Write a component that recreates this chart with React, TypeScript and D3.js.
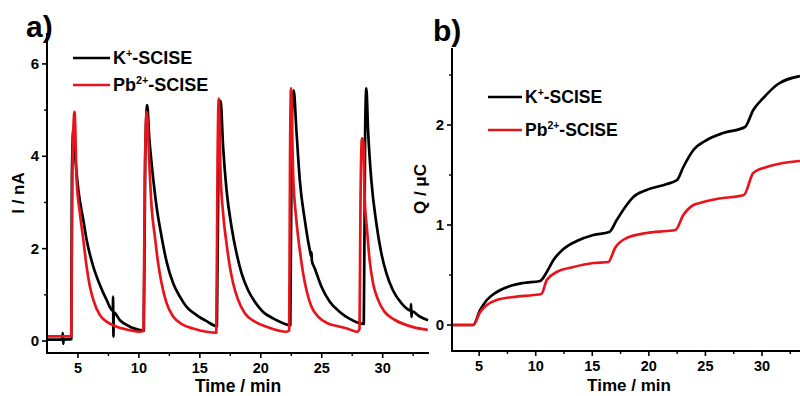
import React from "react";
import * as d3 from "d3";

// ---- Data ----
// Panel a: current I (nA) vs time (min)
const kCurrent: [number, number][] = [
  [2.5, 0.03], [3.7, 0.03], [3.76, 0.17], [3.79, -0.06], [3.82, 0.03], [4.45, 0.04],
  [4.5, 3.5], [4.62, 4.57], [4.8, 3.9], [5.03, 3.27], [5.44, 2.62], [5.71, 2.19], [6.26, 1.61],
  [6.8, 1.21], [7.35, 0.89], [7.86, 0.65], [7.88, 0.96], [7.91, 0.09], [7.94, 0.62], [8.44, 0.45],
  [9.26, 0.31], [10.22, 0.23], [10.4, 0.22],
  [10.52, 4.0], [10.68, 5.11], [10.85, 4.4], [11.04, 3.85], [11.45, 2.91], [11.86, 2.26],
  [12.27, 1.72], [12.81, 1.25], [13.36, 0.96], [13.91, 0.74], [14.73, 0.56], [15.55, 0.43], [16.4, 0.32],
  [16.55, 4.5], [16.7, 5.2], [16.91, 4.2], [17.19, 3.27], [17.6, 2.47], [18.01, 1.9], [18.42, 1.47],
  [18.96, 1.1], [19.51, 0.85], [20.19, 0.63], [21.01, 0.49], [22.24, 0.35], [22.42, 0.34],
  [22.55, 4.8], [22.7, 5.43], [22.92, 4.57], [23.2, 3.48], [23.61, 2.62], [24.02, 1.97],
  [24.14, 1.83], [24.16, 1.92], [24.19, 1.74], [24.43, 1.57], [24.97, 1.18], [25.66, 0.85],
  [26.48, 0.63], [27.3, 0.48], [28.45, 0.37],
  [28.56, 4.5], [28.66, 5.47], [28.8, 4.57], [29.07, 3.48], [29.48, 2.55], [29.89, 1.9],
  [30.3, 1.47], [30.84, 1.1], [31.53, 0.82], [32.3, 0.66], [32.33, 0.8], [32.36, 0.52],
  [32.4, 0.64], [33.03, 0.53], [33.72, 0.45],
];
const pbCurrent: [number, number][] = [
  [2.5, 0.1], [4.45, 0.1], [4.55, 3.8], [4.72, 4.96], [4.89, 3.48], [5.16, 2.77], [5.44, 2.19],
  [5.71, 1.61], [5.98, 1.18], [6.26, 0.89], [6.8, 0.56], [7.35, 0.42], [8.17, 0.31], [8.99, 0.25],
  [10.08, 0.2], [10.38, 0.22],
  [10.48, 3.5], [10.65, 4.96], [10.85, 3.85], [11.04, 2.91], [11.31, 2.26], [11.58, 1.68],
  [11.86, 1.25], [12.27, 0.82], [12.81, 0.53], [13.63, 0.35], [14.45, 0.27], [15.55, 0.2], [16.35, 0.18],
  [16.45, 3.8], [16.55, 5.25], [16.7, 3.63], [16.91, 2.76], [17.19, 2.11], [17.46, 1.61],
  [17.73, 1.25], [18.14, 0.89], [18.69, 0.6], [19.51, 0.42], [20.47, 0.31], [22.1, 0.2], [22.33, 0.23],
  [22.4, 4.0], [22.48, 5.47], [22.65, 3.63], [22.92, 2.62], [23.2, 1.97], [23.47, 1.47],
  [23.75, 1.1], [24.16, 0.74], [24.7, 0.53], [25.52, 0.38], [26.48, 0.31], [27.3, 0.25],
  [27.9, 0.2], [28.1, 0.26],
  [28.18, 3.0], [28.3, 4.39], [28.42, 4.3], [28.52, 3.12], [28.72, 2.4], [28.93, 1.75],
  [29.21, 1.25], [29.62, 0.89], [30.16, 0.63], [30.98, 0.46], [32.5, 0.3], [33.7, 0.24],
];

// Panel b: charge Q (µC) vs time (min)
const kCharge: [number, number][] = [
  [2.6, 0], [4.47, 0], [5.09, 0.15], [5.68, 0.25], [6.56, 0.33], [7.74, 0.39], [8.91, 0.42],
  [10.39, 0.44], [10.98, 0.53], [11.57, 0.65], [12.45, 0.76], [13.63, 0.84], [15.1, 0.9],
  [16.5, 0.93], [17.16, 1.05], [18.04, 1.2], [18.63, 1.28], [19.8, 1.35], [21.6, 1.41],
  [22.5, 1.45], [23.05, 1.58], [23.94, 1.75], [25.12, 1.85], [26.58, 1.92], [28.5, 1.98],
  [29.23, 2.15], [30.12, 2.27], [31.3, 2.4], [33.36, 2.49],
];
const pbCharge: [number, number][] = [
  [2.6, 0], [4.47, 0], [5.09, 0.13], [5.68, 0.2], [6.56, 0.25], [8.03, 0.28], [9.8, 0.3],
  [10.5, 0.31], [10.98, 0.45], [11.86, 0.53], [13.33, 0.58], [15.1, 0.62], [16.42, 0.63],
  [17.01, 0.77], [18.04, 0.87], [19.8, 0.92], [21.6, 0.94], [22.35, 0.95], [23.05, 1.1],
  [23.94, 1.2], [24.5, 1.22], [26.0, 1.26], [28.4, 1.3], [29.23, 1.52], [30.42, 1.58],
  [31.88, 1.62], [33.36, 1.64],
];

const xTicks = [5, 10, 15, 20, 25, 30];
const xMinorTicks = [7.5, 12.5, 17.5, 22.5, 27.5, 32.5];
const iTicks = [0, 2, 4, 6];
const iMinorTicks = [1, 3, 5];
const qTicks = [0, 1, 2];
const qMinorTicks = [0.5, 1.5, 2.5];

const FONT = "'Liberation Sans', Arial, Helvetica, sans-serif";
const RED = "#e8141c";
const BLACK = "#000000";

function Panel(props: {
  x: d3.ScaleLinear<number, number>;
  y: d3.ScaleLinear<number, number>;
  series: { data: [number, number][]; color: string }[];
  yTicks: number[];
  yMinor: number[];
  yTitle: string;
  yTitlePos: [number, number];
  xTitlePos: [number, number];
  xTitleSize: number;
}) {
  const { x, y, series, yTicks, yMinor, yTitle, yTitlePos, xTitlePos, xTitleSize } = props;
  const [x0, x1] = x.range();
  const [yb, yt] = y.range();
  const line = d3
    .line<[number, number]>()
    .x((d) => x(d[0]))
    .y((d) => y(d[1]))
    .curve(d3.curveMonotoneX);
  return (
    <g>
      {series.map((s, i) => (
        <path key={i} d={line(s.data) || ""} fill="none" stroke={s.color} strokeWidth={2.7} strokeLinejoin="round" />
      ))}
      {/* axes */}
      <line x1={x0} x2={x0} y1={yt} y2={yb} stroke="#000" strokeWidth={2} />
      <line x1={x0 - 1} x2={x1} y1={yb} y2={yb} stroke="#000" strokeWidth={2} />
      {xTicks.map((t) => (
        <g key={"xt" + t}>
          <line x1={x(t)} x2={x(t)} y1={yb} y2={yb + 5} stroke="#000" strokeWidth={1.6} />
          <text x={x(t)} y={yb + 20} textAnchor="middle" fontFamily={FONT} fontWeight="bold" fontSize={14.5}>
            {t}
          </text>
        </g>
      ))}
      {xMinorTicks.filter((t) => x(t) <= x1).map((t) => (
        <line key={"xm" + t} x1={x(t)} x2={x(t)} y1={yb} y2={yb + 3} stroke="#000" strokeWidth={1.4} />
      ))}
      {yTicks.map((t) => (
        <g key={"yt" + t}>
          <line x1={x0} x2={x0 - 5} y1={y(t)} y2={y(t)} stroke="#000" strokeWidth={1.6} />
          <text x={x0 - 8} y={y(t) + 5} textAnchor="end" fontFamily={FONT} fontWeight="bold" fontSize={15}>
            {t}
          </text>
        </g>
      ))}
      {yMinor.map((t) => (
        <line key={"ym" + t} x1={x0} x2={x0 - 3} y1={y(t)} y2={y(t)} stroke="#000" strokeWidth={1.4} />
      ))}
      <text
        x={xTitlePos[0]}
        y={xTitlePos[1]}
        textAnchor="middle"
        fontFamily={FONT}
        fontWeight="bold"
        fontSize={xTitleSize}
      >
        Time / min
      </text>
      <text
        transform={`translate(${yTitlePos[0]},${yTitlePos[1]}) rotate(-90)`}
        textAnchor="middle"
        fontFamily={FONT}
        fontWeight="bold"
        fontSize={17}
      >
        {yTitle}
      </text>
    </g>
  );
}

function Legend(props: { x: number; y: number; gap: number; len: number; fontSize: number }) {
  const { x, y, gap, len, fontSize } = props;
  const items = [
    { color: BLACK, base: "K", sup: "+" },
    { color: RED, base: "Pb", sup: "2+" },
  ];
  return (
    <g>
      {items.map((it, i) => (
        <g key={i}>
          <line x1={x} x2={x + len} y1={y + i * gap} y2={y + i * gap} stroke={it.color} strokeWidth={2.7} />
          <text x={x + len + 3} y={y + i * gap + fontSize * 0.36} fontFamily={FONT} fontWeight="bold" fontSize={fontSize}>
            {it.base}
            <tspan dy={-fontSize * 0.4} fontSize={fontSize * 0.6}>
              {it.sup}
            </tspan>
            <tspan dy={fontSize * 0.4}>-SCISE</tspan>
          </text>
        </g>
      ))}
    </g>
  );
}

export default function App() {
  const xL = d3.scaleLinear().domain([2.46, 33.8]).range([47, 429]);
  const yL = d3.scaleLinear().domain([-0.26, 6.67]).range([353, 33]);
  const xR = d3.scaleLinear().domain([2.6, 33.36]).range([452, 800]);
  const yR = d3.scaleLinear().domain([-0.26, 2.77]).range([351, 48]);

  return (
    <svg
      width={800}
      height={396}
      viewBox="0 0 800 396"
      style={{ position: "absolute", left: 0, top: 0, background: "#fff" }}
    >
      <rect x={0} y={0} width={800} height={396} fill="#fff" />
      <Panel
        x={xL}
        y={yL}
        series={[
          { data: kCurrent, color: BLACK },
          { data: pbCurrent, color: RED },
        ]}
        yTicks={iTicks}
        yMinor={iMinorTicks}
        yTitle="I / nA"
        yTitlePos={[24, 193]}
        xTitlePos={[238, 392]}
        xTitleSize={17.5}
      />
      <Panel
        x={xR}
        y={yR}
        series={[
          { data: kCharge, color: BLACK },
          { data: pbCharge, color: RED },
        ]}
        yTicks={qTicks}
        yMinor={qMinorTicks}
        yTitle="Q / μC"
        yTitlePos={[426, 189]}
        xTitlePos={[629, 391]}
        xTitleSize={17}
      />
      <Legend x={73} y={58} gap={27} len={37} fontSize={18} />
      <Legend x={488} y={97} gap={33} len={34} fontSize={17.5} />
      <text x={26} y={37} fontFamily={FONT} fontWeight="bold" fontSize={30}>
        a)
      </text>
      <text x={433} y={41} fontFamily={FONT} fontWeight="bold" fontSize={30}>
        b)
      </text>
    </svg>
  );
}
